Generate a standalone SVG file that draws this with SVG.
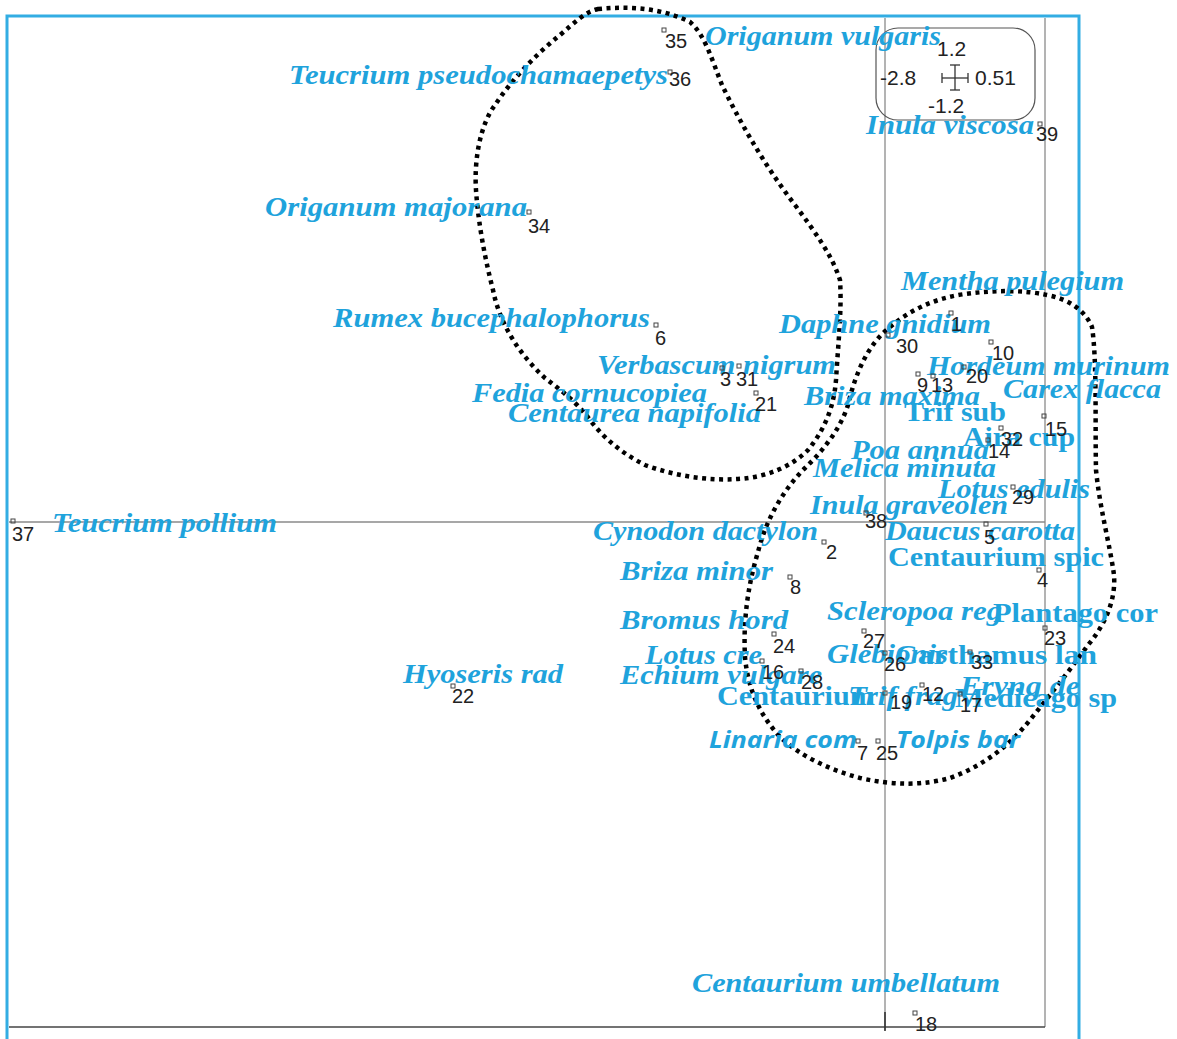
<svg xmlns="http://www.w3.org/2000/svg" width="1177" height="1039" viewBox="0 0 1177 1039">
<style>
.bi{font-family:"Liberation Serif","Times New Roman",serif;font-weight:bold;font-style:italic;font-size:27px;fill:#1fa3dc}
.b{font-family:"Liberation Serif","Times New Roman",serif;font-weight:bold;font-size:27px;fill:#1fa3dc}
.si{font-family:"Open Sans","Liberation Sans",sans-serif;font-weight:bold;font-style:italic;font-size:24px;fill:#1fa3dc}
.num{font-family:"Liberation Sans",Arial,sans-serif;font-size:20px;fill:#222}
.leg{font-family:"Liberation Sans",Arial,sans-serif;font-size:21px;fill:#222}
.mk{fill:none;stroke:#444;stroke-width:1}
.ax{stroke:#8a8a8a;stroke-width:1.3;fill:none}
.blob{fill:none;stroke:#000;stroke-width:4.5;stroke-dasharray:4 4.5}
</style>
<rect width="1177" height="1039" fill="#fff"/>
<g id="frame">
<rect x="7" y="16" width="1072" height="1040" fill="none" stroke="#33ade3" stroke-width="3"/>
<line class="ax" x1="885" y1="18" x2="885" y2="1030"/>
<line class="ax" x1="1045" y1="18" x2="1045" y2="1027"/>
<line class="ax" x1="9" y1="522" x2="1045" y2="522"/>
<line x1="9" y1="1027" x2="1045" y2="1027" stroke="#444" stroke-width="1.3"/>
<line x1="885" y1="1012" x2="885" y2="1031" stroke="#333" stroke-width="1.6"/>
</g>
<g id="connectors">
<path id="group1" class="blob" d="M598,9 C630,6 662,8 690,22 C705,35 712,60 722,85 C738,118 762,162 795,205 C815,232 832,255 840,280 C842,310 838,345 836,380 C834,405 826,428 808,450 C792,466 768,477 738,479 C708,481 675,476 645,465 C625,455 605,440 590,420 C575,400 560,390 545,378 C520,355 500,325 493,290 C484,255 478,220 476,190 C474,160 480,125 495,105 C510,82 535,55 560,35 C575,22 585,12 598,9 Z"/>
<path id="group2" class="blob" d="M890,327 C910,310 935,298 965,294 C995,290 1025,290 1047,295 C1068,299 1085,310 1092,327 C1097,360 1095,420 1096,470 C1100,510 1110,545 1114,575 C1116,600 1105,625 1088,645 C1070,670 1050,695 1030,720 C1010,745 985,765 950,778 C925,785 895,786 860,778 C830,770 800,756 780,737 C760,715 748,690 745,657 C743,620 748,585 758,552 C766,520 782,492 803,470 C822,452 840,430 848,405 C855,375 867,345 890,327 Z"/>
</g>
<g id="legend">
<rect x="876" y="28" width="159" height="92" rx="22" ry="22" fill="none" stroke="#555" stroke-width="1.2"/>
<text class="leg" x="937" y="56">1.2</text>
<text class="leg" x="880" y="85">-2.8</text>
<text class="leg" x="975" y="85">0.51</text>
<text class="leg" x="928" y="113">-1.2</text>
<g stroke="#333" stroke-width="1.3" fill="none">
<line x1="942" y1="78" x2="968" y2="78"/>
<line x1="942" y1="73" x2="942" y2="83"/>
<line x1="968" y1="73" x2="968" y2="83"/>
<line x1="955" y1="65" x2="955" y2="90"/>
<line x1="950" y1="65" x2="960" y2="65"/>
<line x1="950" y1="90" x2="960" y2="90"/>
</g>
</g>
<g id="labels">
<text id="l-origanum-vulgaris" class="bi" x="705" y="45" textLength="236" lengthAdjust="spacingAndGlyphs">Origanum vulgaris</text>
<text id="l-teucrium-pseudo" class="bi" x="289" y="84" textLength="379" lengthAdjust="spacingAndGlyphs">Teucrium pseudochamaepetys</text>
<text id="l-inula-viscosa" class="bi" x="866" y="134" textLength="168" lengthAdjust="spacingAndGlyphs">Inula viscosa</text>
<text id="l-origanum-majorana" class="bi" x="265" y="216" textLength="262" lengthAdjust="spacingAndGlyphs">Origanum majorana</text>
<text id="l-rumex" class="bi" x="333" y="327" textLength="317" lengthAdjust="spacingAndGlyphs">Rumex bucephalophorus</text>
<text id="l-verbascum" class="bi" x="597" y="374" textLength="239" lengthAdjust="spacingAndGlyphs">Verbascum nigrum</text>
<text id="l-fedia" class="bi" x="472" y="402" textLength="235" lengthAdjust="spacingAndGlyphs">Fedia cornucopiea</text>
<text id="l-centaurea" class="bi" x="508" y="422" textLength="253" lengthAdjust="spacingAndGlyphs">Centaurea napifolia</text>
<text id="l-mentha" class="bi" x="901" y="290" textLength="223" lengthAdjust="spacingAndGlyphs">Mentha pulegium</text>
<text id="l-daphne" class="bi" x="779" y="333" textLength="212" lengthAdjust="spacingAndGlyphs">Daphne gnidium</text>
<text id="l-hordeum" class="bi" x="927" y="375" textLength="243" lengthAdjust="spacingAndGlyphs">Hordeum murinum</text>
<text id="l-briza-maxima" class="bi" x="804" y="405" textLength="176" lengthAdjust="spacingAndGlyphs">Briza maxima</text>
<text id="l-carex" class="bi" x="1003" y="398" textLength="158" lengthAdjust="spacingAndGlyphs">Carex flacca</text>
<text id="l-trif-sub" class="b" x="904" y="421" textLength="102" lengthAdjust="spacingAndGlyphs">Trif sub</text>
<text id="l-aira" class="b" x="963" y="446" textLength="112" lengthAdjust="spacingAndGlyphs">Aira cup</text>
<text id="l-poa" class="bi" x="851" y="459" textLength="138" lengthAdjust="spacingAndGlyphs">Poa annua</text>
<text id="l-melica" class="bi" x="813" y="477" textLength="183" lengthAdjust="spacingAndGlyphs">Melica minuta</text>
<text id="l-lotus-edulis" class="bi" x="938" y="498" textLength="152" lengthAdjust="spacingAndGlyphs">Lotus edulis</text>
<text id="l-inula-grav" class="bi" x="810" y="514" textLength="198" lengthAdjust="spacingAndGlyphs">Inula graveolen</text>
<text id="l-daucus" class="bi" x="885" y="540" textLength="190" lengthAdjust="spacingAndGlyphs">Daucus carotta</text>
<text id="l-centaurium-spic" class="b" x="888" y="566" textLength="216" lengthAdjust="spacingAndGlyphs">Centaurium spic</text>
<text id="l-cynodon" class="bi" x="593" y="540" textLength="225" lengthAdjust="spacingAndGlyphs">Cynodon dactylon</text>
<text id="l-briza-minor" class="bi" x="620" y="580" textLength="153" lengthAdjust="spacingAndGlyphs">Briza minor</text>
<text id="l-bromus" class="bi" x="620" y="629" textLength="168" lengthAdjust="spacingAndGlyphs">Bromus hord</text>
<text id="l-scleropoa" class="bi" x="827" y="620" textLength="175" lengthAdjust="spacingAndGlyphs">Scleropoa reg</text>
<text id="l-plantago" class="b" x="993" y="622" textLength="165" lengthAdjust="spacingAndGlyphs">Plantago cor</text>
<text id="l-glebionis" class="bi" x="827" y="663" textLength="121" lengthAdjust="spacingAndGlyphs">Glebionis</text>
<text id="l-carthamus" class="b" x="895" y="664" textLength="202" lengthAdjust="spacingAndGlyphs">Carthamus lan</text>
<text id="l-lotus-cre" class="bi" x="645" y="664" textLength="117" lengthAdjust="spacingAndGlyphs">Lotus cre</text>
<text id="l-echium" class="bi" x="620" y="684" textLength="202" lengthAdjust="spacingAndGlyphs">Echium vulgare</text>
<text id="l-centaurium" class="b" x="717" y="705" textLength="158" lengthAdjust="spacingAndGlyphs">Centaurium</text>
<text id="l-trif-frag" class="bi" x="848" y="705" textLength="110" lengthAdjust="spacingAndGlyphs">Trif frag</text>
<text id="l-eryng" class="bi" x="960" y="695" textLength="120" lengthAdjust="spacingAndGlyphs">Eryng de</text>
<text id="l-medicago" class="b" x="955" y="707" textLength="162" lengthAdjust="spacingAndGlyphs">Medicago sp</text>
<text id="l-linaria" class="si" x="709" y="748" textLength="148" lengthAdjust="spacingAndGlyphs">Linaria com</text>
<text id="l-tolpis" class="si" x="896" y="748" textLength="124" lengthAdjust="spacingAndGlyphs">Tolpis bar</text>
<text id="l-teucrium-pollium" class="bi" x="52" y="532" textLength="225" lengthAdjust="spacingAndGlyphs">Teucrium pollium</text>
<text id="l-hyoseris" class="bi" x="403" y="683" textLength="160" lengthAdjust="spacingAndGlyphs">Hyoseris rad</text>
<text id="l-centaurium-umb" class="bi" x="692" y="992" textLength="308" lengthAdjust="spacingAndGlyphs">Centaurium umbellatum</text>
</g>
<g id="points">
<g id="p35"><rect class="mk" x="662" y="28" width="4" height="4"/><text class="num" x="665" y="48">35</text></g>
<g id="p36"><rect class="mk" x="668" y="70" width="4" height="4"/><text class="num" x="669" y="86">36</text></g>
<g id="p39"><rect class="mk" x="1038" y="122" width="4" height="4"/><text class="num" x="1036" y="141">39</text></g>
<g id="p34"><rect class="mk" x="527" y="210" width="4" height="4"/><text class="num" x="528" y="233">34</text></g>
<g id="p6"><rect class="mk" x="654" y="323" width="4" height="4"/><text class="num" x="655" y="345">6</text></g>
<g id="p3"><rect class="mk" x="720" y="366" width="4" height="4"/><text class="num" x="720" y="386">3</text></g>
<g id="p31"><rect class="mk" x="737" y="364" width="4" height="4"/><text class="num" x="736" y="386">31</text></g>
<g id="p21"><rect class="mk" x="754" y="391" width="4" height="4"/><text class="num" x="755" y="411">21</text></g>
<g id="p1"><rect class="mk" x="949" y="311" width="4" height="4"/><text class="num" x="951" y="331">1</text></g>
<g id="p30"><rect class="mk" x="886" y="333" width="4" height="4"/><text class="num" x="896" y="353">30</text></g>
<g id="p10"><rect class="mk" x="989" y="340" width="4" height="4"/><text class="num" x="992" y="360">10</text></g>
<g id="p9"><rect class="mk" x="916" y="372" width="4" height="4"/><text class="num" x="917" y="392">9</text></g>
<g id="p13"><rect class="mk" x="931" y="374" width="4" height="4"/><text class="num" x="931" y="392">13</text></g>
<g id="p20"><rect class="mk" x="962" y="365" width="4" height="4"/><text class="num" x="966" y="383">20</text></g>
<g id="p15"><rect class="mk" x="1042" y="414" width="4" height="4"/><text class="num" x="1045" y="436">15</text></g>
<g id="p32"><rect class="mk" x="999" y="426" width="4" height="4"/><text class="num" x="1001" y="446">32</text></g>
<g id="p14"><rect class="mk" x="986" y="438" width="4" height="4"/><text class="num" x="988" y="458">14</text></g>
<g id="p29"><rect class="mk" x="1011" y="485" width="4" height="4"/><text class="num" x="1012" y="504">29</text></g>
<g id="p38"><rect class="mk" x="864" y="511" width="4" height="4"/><text class="num" x="865" y="528">38</text></g>
<g id="p5"><rect class="mk" x="984" y="522" width="4" height="4"/><text class="num" x="984" y="544">5</text></g>
<g id="p4"><rect class="mk" x="1037" y="568" width="4" height="4"/><text class="num" x="1037" y="587">4</text></g>
<g id="p2"><rect class="mk" x="822" y="540" width="4" height="4"/><text class="num" x="826" y="559">2</text></g>
<g id="p8"><rect class="mk" x="788" y="575" width="4" height="4"/><text class="num" x="790" y="594">8</text></g>
<g id="p24"><rect class="mk" x="772" y="632" width="4" height="4"/><text class="num" x="773" y="653">24</text></g>
<g id="p23"><rect class="mk" x="1043" y="626" width="4" height="4"/><text class="num" x="1044" y="645">23</text></g>
<g id="p27"><rect class="mk" x="862" y="629" width="4" height="4"/><text class="num" x="863" y="648">27</text></g>
<g id="p26"><rect class="mk" x="883" y="651" width="4" height="4"/><text class="num" x="884" y="671">26</text></g>
<g id="p33"><rect class="mk" x="968" y="650" width="4" height="4"/><text class="num" x="971" y="669">33</text></g>
<g id="p16"><rect class="mk" x="760" y="659" width="4" height="4"/><text class="num" x="762" y="679">16</text></g>
<g id="p28"><rect class="mk" x="799" y="669" width="4" height="4"/><text class="num" x="801" y="689">28</text></g>
<g id="p19"><rect class="mk" x="883" y="691" width="4" height="4"/><text class="num" x="890" y="709">19</text></g>
<g id="p12"><rect class="mk" x="920" y="683" width="4" height="4"/><text class="num" x="922" y="701">12</text></g>
<g id="p17"><rect class="mk" x="958" y="692" width="4" height="4"/><text class="num" x="960" y="712">17</text></g>
<g id="p7"><rect class="mk" x="856" y="739" width="4" height="4"/><text class="num" x="857" y="760">7</text></g>
<g id="p25"><rect class="mk" x="876" y="739" width="4" height="4"/><text class="num" x="876" y="760">25</text></g>
<g id="p37"><rect class="mk" x="11" y="519" width="4" height="4"/><text class="num" x="12" y="541">37</text></g>
<g id="p22"><rect class="mk" x="451" y="684" width="4" height="4"/><text class="num" x="452" y="703">22</text></g>
<g id="p18"><rect class="mk" x="913" y="1011" width="4" height="4"/><text class="num" x="915" y="1031">18</text></g>
</g>
</svg>
